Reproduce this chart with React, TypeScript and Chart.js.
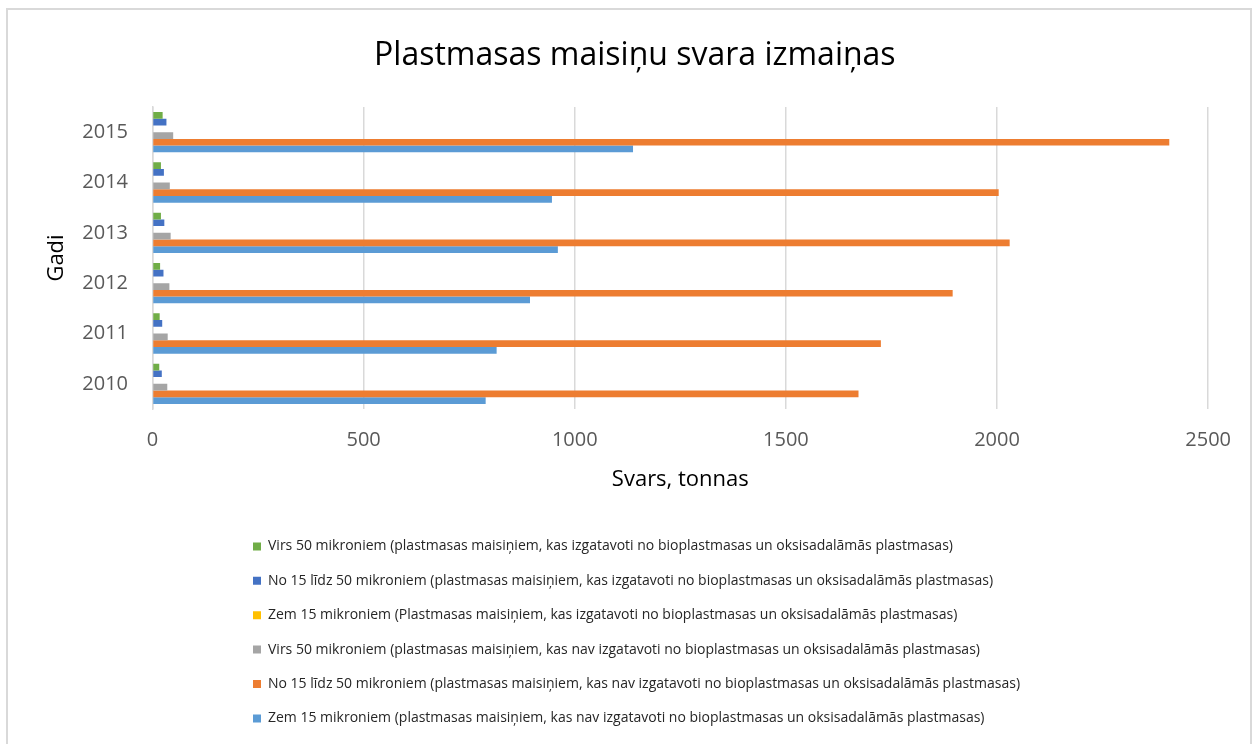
import React, { useEffect, useRef } from "react";
import { Chart, registerables } from "chart.js";

Chart.register(...registerables);

const years = ["2015", "2014", "2013", "2012", "2011", "2010"];

const seriesLabels = [
  "Virs 50 mikroniem (plastmasas maisiņiem, kas izgatavoti no bioplastmasas un oksisadalāmās plastmasas)",
  "No 15 līdz 50 mikroniem (plastmasas maisiņiem, kas izgatavoti no bioplastmasas un oksisadalāmās plastmasas)",
  "Zem 15 mikroniem (Plastmasas maisiņiem, kas izgatavoti no bioplastmasas un oksisadalāmās plastmasas)",
  "Virs 50 mikroniem (plastmasas maisiņiem, kas nav izgatavoti no bioplastmasas un oksisadalāmās plastmasas)",
  "No 15 līdz 50 mikroniem (plastmasas maisiņiem, kas nav izgatavoti no bioplastmasas un oksisadalāmās plastmasas)",
  "Zem 15 mikroniem (plastmasas maisiņiem, kas nav izgatavoti no bioplastmasas un oksisadalāmās plastmasas)",
];

const virs50Bio = [24, 20, 20, 18, 17, 16];
const no15lidz50Bio = [33, 27, 28, 26, 23, 22];
const zem15Bio = [0, 0, 0, 0, 0, 0];
const virs50Nav = [49, 41, 43, 40, 36, 35];
const no15lidz50Nav = [2408, 2004, 2030, 1895, 1725, 1672];
const zem15Nav = [1138, 946, 960, 894, 815, 789];

const seriesColors = ["#70AD47", "#4472C4", "#FFC000", "#A5A5A5", "#ED7D31", "#5B9BD5"];

const xTicks = [0, 500, 1000, 1500, 2000, 2500];

const FONT = "'Open Sans', 'DejaVu Sans', sans-serif";

export default function App() {
  const ref = useRef<HTMLCanvasElement | null>(null);

  useEffect(() => {
    if (!ref.current) return;
    const values = [virs50Bio, no15lidz50Bio, zem15Bio, virs50Nav, no15lidz50Nav, zem15Nav];
    const boxShift = {
      id: "boxShift",
      afterLayout(chart: any) {
        const lg = chart.legend;
        if (lg) {
          const w = lg.right - lg.left;
          lg.left = 245 - 20.4;
          lg.right = lg.left + w;
        }
        const tb = chart.titleBlock;
        if (tb) {
          tb.left += 24;
          tb.right += 24;
        }
      },
    };
    const chart = new Chart(ref.current, {
      type: "bar",
      data: {
        labels: years,
        datasets: seriesLabels.map((label, i) => ({
          label,
          data: values[i],
          backgroundColor: seriesColors[i],
          borderWidth: 0,
          categoryPercentage: 0.8,
          barPercentage: 1.0,
        })),
      },
      plugins: [boxShift],
      options: {
        indexAxis: "y",
        responsive: false,
        animation: false,
        layout: { padding: { left: 0, right: 36.3, top: 0, bottom: 14.6 } },
        font: { family: FONT },
        plugins: {
          tooltip: { enabled: false },
          title: {
            display: true,
            text: "Plastmasas maisiņu svara izmaiņas",
            color: "#000000",
            font: { family: FONT, size: 32, weight: "normal" },
            padding: { top: 26.4, bottom: 32.2 },
          },
          legend: {
            position: "bottom",
            align: "start",
            labels: {
              color: "#262626",
              font: { family: FONT, size: 14 },
              boxWidth: 8,
              boxHeight: 8,
              padding: 20.4,
            },
          },
        },
        scales: {
          x: {
            type: "linear",
            min: 0,
            max: 2500,
            afterBuildTicks(scale: any) {
              scale.ticks = xTicks.map((v) => ({ value: v }));
            },
            afterFit(scale: any) {
              scale.height = 110;
            },
            grid: { color: "#d9d9d9", lineWidth: 1.5, drawTicks: false },
            border: { display: false },
            ticks: {
              color: "#595959",
              font: { family: FONT, size: 20 },
              padding: 19,
              callback: (v: any) => String(v),
            },
            title: {
              display: true,
              text: "Svars, tonnas",
              color: "#000000",
              font: { family: FONT, size: 22 },
              padding: { top: 0, bottom: 25.8 },
            },
          },
          y: {
            type: "category",
            afterFit(scale: any) {
              scale.width = 144.5;
            },
            grid: { display: false, drawTicks: false },
            border: { display: true, color: "#d9d9d9", width: 1.5 },
            ticks: {
              color: "#595959",
              font: { family: FONT, size: 20 },
              padding: 24.5,
            },
            title: {
              display: true,
              text: "Gadi",
              color: "#000000",
              font: { family: FONT, size: 22 },
              padding: { top: 35.3, bottom: 0 },
            },
          },
        },
      },
    } as any);
    return () => chart.destroy();
  }, []);

  return (
    <div
      style={{
        position: "fixed",
        left: 6,
        top: 8,
        width: 1246,
        height: 760,
        boxSizing: "border-box",
        border: "2px solid #d9d9d9",
        background: "#ffffff",
        overflow: "hidden",
      }}
    >
      <canvas ref={ref} width={1242} height={740} style={{ display: "block" }} />
    </div>
  );
}
